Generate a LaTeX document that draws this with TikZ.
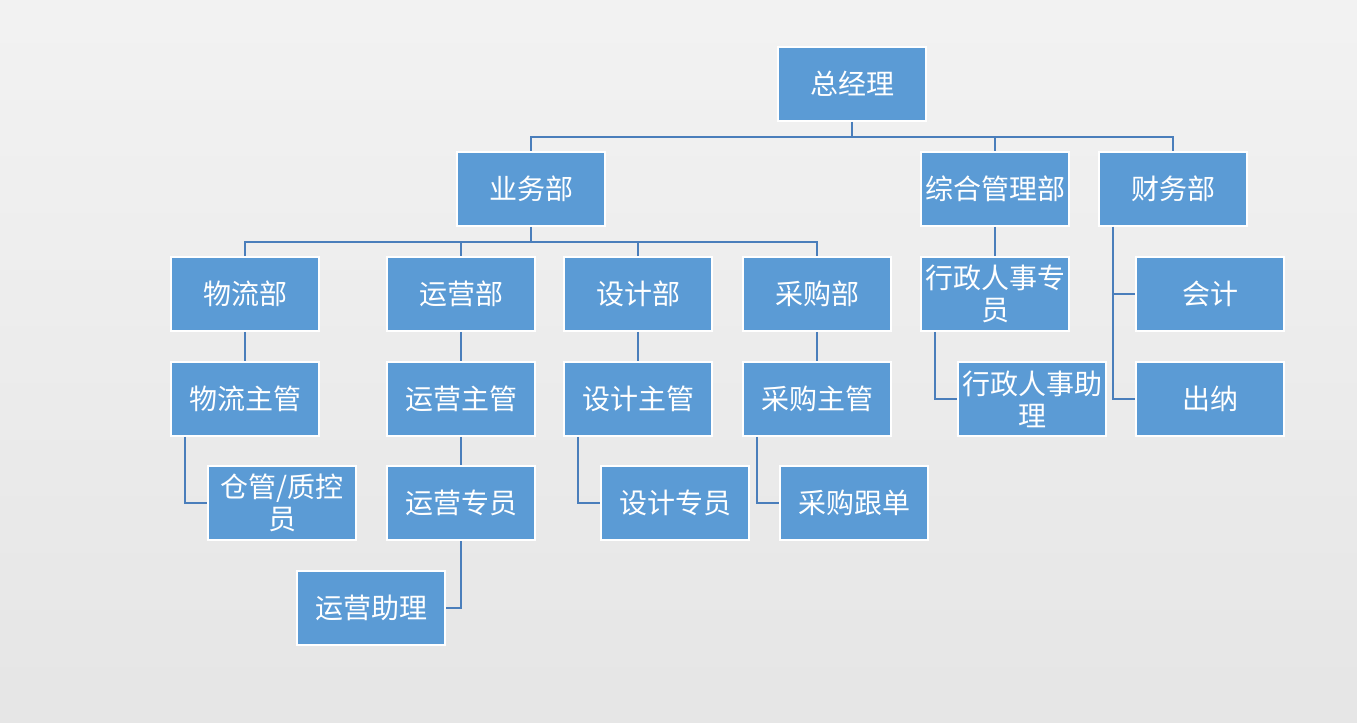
\documentclass[tikz,border=0pt]{standalone}
\usepackage{fontspec}
\newfontfamily\cjk{Noto Sans CJK SC}
\usepackage{xcolor}
\usetikzlibrary{positioning}
\definecolor{boxblue}{HTML}{5B9BD5}
\definecolor{lineblue}{HTML}{4A7EBB}

\begin{document}
\begin{tikzpicture}[
    x=0.75pt, y=-0.75pt,
    orgbox/.style={draw=white, line width=1.5pt, fill=boxblue, text=white,
        minimum width=111pt, minimum height=55.5pt, inner sep=1pt, align=center,
        font=\cjk\fontsize{21}{24}\selectfont},
    link/.style={draw=lineblue, line width=0.8pt}
]

% Background
\useasboundingbox (0,0) rectangle (1357,723);
\fill[top color=white!95!black, bottom color=white!90!black] (0,0) rectangle (1357,723);

% Boxes
\node[orgbox] (zjl) at (852,84) {总经理};
\node[orgbox] (ywb) at (531,189) {业务部};
\node[orgbox] (zhb) at (995,189) {综合管理部};
\node[orgbox] (cwb) at (1173,189) {财务部};

\node[orgbox] (wlb) at (245,294) {物流部};
\node[orgbox] (yyb) at (461,294) {运营部};
\node[orgbox] (sjb) at (638,294) {设计部};
\node[orgbox] (cgb) at (817,294) {采购部};
\node[orgbox] (xzzy) at (995,294) {行政人事专\\员};
\node[orgbox] (kj) at (1210,294) {会计};

\node[orgbox] (wlzg) at (245,399) {物流主管};
\node[orgbox] (yyzg) at (461,399) {运营主管};
\node[orgbox] (sjzg) at (638,399) {设计主管};
\node[orgbox] (cgzg) at (817,399) {采购主管};
\node[orgbox] (xzzl) at (1032,399) {行政人事助\\理};
\node[orgbox] (cn) at (1210,399) {出纳};

\node[orgbox] (cgy) at (282,503) {仓管/质控\\员};
\node[orgbox] (yyzy) at (461,503) {运营专员};
\node[orgbox] (sjzy) at (675,503) {设计专员};
\node[orgbox] (cggd) at (854,503) {采购跟单};

\node[orgbox] (yyzl) at (371,608) {运营助理};

% Connectors
\draw[link] (zjl.south) -- ++(0,15) coordinate (bus1);
\draw[link] (bus1) -| (ywb.north);
\draw[link] (bus1) -| (zhb.north);
\draw[link] (bus1) -| (cwb.north);

\draw[link] (ywb.south) -- ++(0,15) coordinate (bus2);
\foreach \n in {wlb,yyb,sjb,cgb}
    \draw[link] (bus2) -| (\n.north);

\draw[link] (wlb) -- (wlzg);
\draw[link] (yyb) -- (yyzg);
\draw[link] (sjb) -- (sjzg);
\draw[link] (cgb) -- (cgzg);
\draw[link] (zhb) -- (xzzy);
\draw[link] (yyzg) -- (yyzy);

\draw[link] ([xshift=11.25pt]wlzg.south west) |- (cgy.west);
\draw[link] ([xshift=11.25pt]sjzg.south west) |- (sjzy.west);
\draw[link] ([xshift=11.25pt]cgzg.south west) |- (cggd.west);
\draw[link] ([xshift=11.25pt]xzzy.south west) |- (xzzl.west);
\draw[link] (yyzy.south) |- (yyzl.east);
\draw[link] ([xshift=11.25pt]cwb.south west) |- (kj.west);
\draw[link] ([xshift=11.25pt]cwb.south west) |- (cn.west);

\end{tikzpicture}
\end{document}
